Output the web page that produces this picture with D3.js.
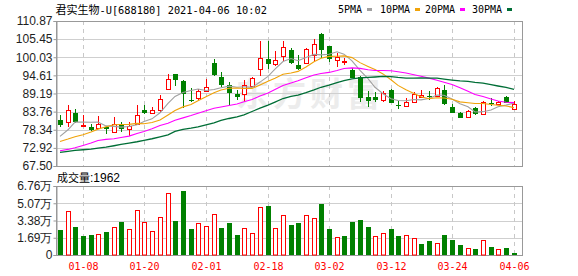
<!DOCTYPE html>
<html>
<head>
<meta charset="utf-8">
<script src="https://cdn.jsdelivr.net/npm/d3@7/dist/d3.min.js"></script>
<style>
  body { margin: 0; background: #fff; }
</style>
</head>
<body>
<div id="chart"></div>
<script>
// trading days shown (MM-DD)
const dates = ["01-05","01-06","01-07","01-08","01-11","01-12","01-13","01-14","01-15","01-18",
  "01-19","01-20","01-21","01-22","01-25","01-26","01-27","01-28","01-29","02-01",
  "02-02","02-03","02-04","02-05","02-08","02-09","02-10","02-18","02-19","02-22",
  "02-23","02-24","02-25","02-26","03-01","03-02","03-03","03-04","03-05","03-08",
  "03-09","03-10","03-11","03-12","03-15","03-16","03-17","03-18","03-19","03-22",
  "03-23","03-24","03-25","03-26","03-29","03-30","03-31","04-01","04-02","04-06"];

const opens = [81.20,80.62,83.50,79.50,79.23,78.83,79.03,77.83,79.92,78.53,
  80.12,84.20,83.30,84.10,90.37,94.95,93.06,87.29,87.79,89.97,
  98.33,94.15,91.77,89.08,89.18,91.57,96.50,99.43,97.94,100.22,
  102.31,97.74,98.23,100.72,107.09,103.30,99.43,98.83,96.34,94.15,
  88.18,88.18,87.39,90.27,85.60,85.40,86.79,88.18,88.48,88.48,
  90.17,85.20,83.21,82.21,84.80,83.11,86.20,85.80,88.18,84.70];
const highs = [82.81,85.80,84.60,82.80,80.02,82.40,79.43,82.20,80.62,80.62,
  85.80,85.60,85.20,88.80,94.95,95.10,93.30,90.77,90.67,93.56,
  99.63,95.75,92.76,90.27,93.16,94.15,104.90,104.90,101.90,104.90,
  102.71,100.72,102.91,105.50,107.29,103.50,101.22,99.92,96.94,94.55,
  89.97,89.58,89.97,90.40,86.99,87.79,89.77,90.27,89.97,91.27,
  91.77,85.99,83.51,84.20,85.00,86.99,87.79,86.99,88.30,86.99];
const lows = [79.23,79.23,80.32,79.20,77.83,78.53,77.04,77.54,77.63,76.54,
  79.83,83.00,83.20,83.50,90.17,91.57,84.80,86.60,86.99,89.68,
  94.55,91.27,85.80,87.29,86.60,91.37,94.55,96.44,97.54,99.03,
  98.03,96.24,98.03,99.03,99.73,98.53,97.24,97.74,93.76,86.60,
  85.00,86.79,86.60,86.20,84.40,85.20,86.60,88.08,87.29,88.18,
  85.80,83.21,81.72,82.00,82.81,82.81,85.30,85.60,86.39,84.60];
const closes = [79.83,84.20,80.82,79.70,78.33,80.12,78.53,80.12,78.53,79.33,
  82.81,83.20,84.20,87.50,93.45,93.20,89.18,86.99,89.87,91.17,
  94.75,91.77,89.38,88.28,91.77,93.86,99.70,97.94,99.13,103.01,
  98.43,96.54,102.51,103.90,102.31,99.33,100.22,99.03,93.96,87.98,
  87.09,87.19,89.38,86.39,85.50,86.60,89.08,88.78,88.38,90.87,
  86.09,83.41,81.82,83.90,83.01,86.60,86.00,86.50,86.40,86.09];

// volume in 万 (10k lots)
const volumes = [2.45,4.28,2.75,1.86,1.96,2.06,2.25,2.75,3.24,2.52,
  4.38,3.24,2.32,3.69,6.05,3.33,6.27,2.55,3.10,2.81,
  4.02,2.65,3.14,1.96,2.61,2.16,4.67,4.80,2.61,3.89,
  2.94,3.14,3.89,3.59,5.00,2.55,1.73,1.86,3.24,3.43,
  2.75,1.83,2.16,2.55,1.86,1.96,1.67,1.08,1.37,1.18,
  1.96,1.47,0.98,0.69,0.59,1.47,0.78,0.59,0.69,0.1962];

const ma5 = [76.34,78.33,80.62,80.62,80.58,80.63,79.50,79.36,79.13,79.33,
  79.86,80.80,81.61,83.41,86.23,88.31,89.51,90.06,90.54,90.08,
  90.39,90.91,91.39,91.07,91.19,91.01,92.60,94.31,96.48,98.73,
  99.64,99.01,99.92,100.88,100.74,100.92,101.65,100.96,98.97,96.10,
  93.66,91.05,89.12,87.61,87.11,87.01,87.39,87.27,87.67,88.74,
  88.64,87.51,86.11,85.22,83.65,83.75,84.27,85.20,85.70,86.31];
const ma10 = [74.85,75.55,76.24,76.84,77.64,78.53,79.23,79.83,79.92,79.95,
  80.25,80.15,80.49,81.27,82.78,84.11,85.18,85.87,87.00,88.18,
  89.38,90.24,90.75,90.83,90.69,90.71,91.75,92.85,93.78,94.96,
  95.33,95.80,97.12,98.68,99.73,100.28,100.33,100.44,99.92,98.42,
  97.29,96.35,95.04,93.29,91.61,90.33,89.22,88.20,87.64,87.93,
  87.83,87.45,86.69,86.44,86.19,86.19,85.89,85.66,85.45,84.97];
const ma20 = [72.06,72.46,72.96,73.66,74.35,75.15,75.45,75.65,76.04,76.44,
  77.24,77.83,78.63,79.60,80.30,81.20,81.90,82.60,83.30,84.05,
  84.79,85.17,85.60,86.03,86.70,87.39,88.45,89.34,90.37,91.55,
  92.33,93.00,93.92,94.74,95.19,95.49,96.04,96.65,96.85,96.69,
  96.31,96.08,96.08,95.98,95.67,95.31,94.78,94.32,93.78,93.17,
  92.56,91.90,90.87,89.87,88.90,88.26,87.55,86.92,86.55,86.46];
const ma30 = [71.57,71.87,72.16,72.36,72.56,72.86,73.16,73.56,73.95,74.35,
  74.75,75.15,75.65,76.24,76.84,77.83,78.43,78.83,79.23,79.82,
  80.42,81.12,81.71,82.21,82.81,83.80,84.80,85.70,86.60,87.68,
  88.30,88.72,89.44,90.25,91.05,91.69,92.41,93.04,93.55,93.84,
  93.98,94.12,94.29,94.25,94.00,93.77,93.77,93.83,93.78,93.77,
  93.48,93.20,92.95,92.80,92.51,92.27,91.81,91.43,91.01,90.45];

const priceTicks = [67.50, 72.92, 78.34, 83.76, 89.19, 94.61, 100.03, 105.45, 110.87];
const volTicks = [0, 1.69, 3.38, 5.07, 6.76];
const dateTicks = ["01-08", "01-20", "02-01", "02-18", "03-02", "03-12", "03-24", "04-06"];

const maNames = ["5PMA", "10PMA", "20PMA", "30PMA"];
const maColors = ["#a0a0a0", "#f0a30a", "#ff00ff", "#006e36"];

const width = 578, height = 276;
const left = 56, right = 522;
const pTop = 21, pBot = 166, vTop = 186, vBot = 255;
const RED = "#ff0000", GREEN = "#008000";
const cjk = "'Noto Sans CJK SC', sans-serif";
const mono = "'DejaVu Sans Mono', monospace";
const sans = "'Liberation Sans', Arial, sans-serif";

const svg = d3.select("#chart")
  .append("svg")
  .attr("width", width)
  .attr("height", height)
  .style("display", "block");

const x = d3.scaleBand()
  .domain(dates)
  .range([left, 517.5])
  .paddingInner(0.35)
  .paddingOuter(0.175);
const cx = d => Math.round(x(d) + x.bandwidth() / 2) + 0.5;

const y = d3.scaleLinear().domain([67.5, 110.87]).range([pBot, pTop]);
const yv = d3.scaleLinear().domain([0, 6.76]).range([vBot, vTop]);

// watermark
svg.append("text")
  .attr("x", 236).attr("y", 106)
  .attr("font-family", cjk)
  .attr("font-size", 33)
  .attr("font-weight", "bold")
  .attr("letter-spacing", 4)
  .attr("fill", "#ececec")
  .text("东方财富");

// horizontal grid
svg.append("g").selectAll("line")
  .data(priceTicks.slice(1, -1))
  .join("line")
  .attr("x1", left).attr("x2", right)
  .attr("y1", d => Math.round(y(d)) + 0.5).attr("y2", d => Math.round(y(d)) + 0.5)
  .attr("stroke", "#cfcfcf");
svg.append("g").selectAll("line")
  .data(volTicks.slice(1, -1))
  .join("line")
  .attr("x1", left).attr("x2", right)
  .attr("y1", d => Math.round(yv(d)) + 0.5).attr("y2", d => Math.round(yv(d)) + 0.5)
  .attr("stroke", "#cfcfcf");

// vertical dashed grid
[[pTop, pBot], [vTop, vBot]].forEach(([t, b]) => {
  svg.append("g").selectAll("line")
    .data(dateTicks)
    .join("line")
    .attr("x1", cx).attr("x2", cx)
    .attr("y1", t).attr("y2", b)
    .attr("stroke", "#c8c8c8")
    .attr("stroke-dasharray", "4,4");
});

// frames
[[pTop, pBot], [vTop, vBot]].forEach(([t, b]) => {
  svg.append("rect")
    .attr("x", left + 0.5).attr("y", t + 0.5)
    .attr("width", right - left).attr("height", b - t)
    .attr("fill", "none")
    .attr("stroke", "#999");
});

// y axes
const yAxis = d3.axisLeft(y).tickValues(priceTicks).tickSize(3).tickFormat(d => d.toFixed(2));
const yAxisG = svg.append("g").attr("transform", `translate(${left + 0.5},0)`).call(yAxis);
const yvAxis = d3.axisLeft(yv).tickValues(volTicks).tickSize(3)
  .tickFormat(d => d === 0 ? "0" : d.toFixed(2) + "万");
const yvAxisG = svg.append("g").attr("transform", `translate(${left + 0.5},0)`).call(yvAxis);
[yAxisG, yvAxisG].forEach(g => {
  g.select(".domain").attr("stroke", "#999");
  g.selectAll(".tick line").attr("stroke", "#999");
  g.selectAll(".tick text")
    .attr("x", -4)
    .attr("fill", "#1e1e1e")
    .attr("font-family", sans)
    .attr("font-size", 12);
});

// x axis labels
svg.append("g").selectAll("text")
  .data(dateTicks)
  .join("text")
  .attr("x", cx)
  .attr("y", 269.5)
  .attr("text-anchor", "middle")
  .attr("font-family", mono)
  .attr("font-size", 10)
  .attr("fill", RED)
  .text(d => d);

// candles
const idx = d3.range(dates.length);
const isUp = i => closes[i] >= opens[i];
const candles = svg.append("g");
candles.selectAll("line")
  .data(idx)
  .join("line")
  .attr("x1", i => cx(dates[i])).attr("x2", i => cx(dates[i]))
  .attr("y1", i => Math.round(y(highs[i]))).attr("y2", i => Math.round(y(lows[i])))
  .attr("stroke", i => isUp(i) ? RED : GREEN);
candles.selectAll("rect")
  .data(idx)
  .join("rect")
  .attr("x", i => cx(dates[i]) - (isUp(i) ? 2 : 2.5))
  .attr("y", i => Math.round(y(Math.max(opens[i], closes[i]))) + (isUp(i) ? 0.5 : 0))
  .attr("width", i => isUp(i) ? 4 : 5)
  .attr("height", i => Math.max(1, Math.round(Math.abs(y(opens[i]) - y(closes[i])))))
  .attr("fill", i => isUp(i) ? "#fff" : GREEN)
  .attr("stroke", i => isUp(i) ? RED : "none");

// moving averages
const line = d3.line().x((v, i) => cx(dates[i]) - 0.5).y(v => y(v));
[ma5, ma10, ma20, ma30].forEach((s, k) => {
  svg.append("path")
    .datum(s)
    .attr("d", line)
    .attr("fill", "none")
    .attr("stroke", maColors[k])
    .attr("stroke-width", k === 3 ? 1.3 : 1.1);
});

// volume bars: colour follows close vs previous close
const volUp = i => i === 0 ? closes[0] >= opens[0] : closes[i] >= closes[i - 1];
svg.append("g").selectAll("rect")
  .data(idx)
  .join("rect")
  .attr("x", i => cx(dates[i]) - (volUp(i) ? 2 : 2.5))
  .attr("y", i => Math.round(yv(volumes[i])) + (volUp(i) ? 0.5 : 0))
  .attr("width", i => volUp(i) ? 4 : 5)
  .attr("height", i => Math.max(1, vBot - Math.round(yv(volumes[i])) - (volUp(i) ? 0.5 : 0)))
  .attr("fill", i => volUp(i) ? "#fff" : GREEN)
  .attr("stroke", i => volUp(i) ? RED : "none");

// title
const title = svg.append("text").attr("x", 55.5).attr("y", 13.5).attr("fill", "#000");
title.append("tspan").attr("font-family", cjk).attr("font-size", 11).text("君实生物");
title.append("tspan").attr("font-family", mono).attr("font-size", 10.3).text("-U[688180] 2021-04-06 10:02");

// legend
const legendX = [338, 380, 425, 472];
const legend = svg.append("g").selectAll("g")
  .data(maNames)
  .join("g")
  .attr("transform", (d, k) => `translate(${legendX[k]},0)`);
legend.append("text")
  .attr("y", 12.5)
  .attr("font-family", mono)
  .attr("font-size", 10)
  .attr("fill", "#000")
  .text(d => d);
legend.append("rect")
  .attr("x", (d, k) => d.length * 6 + 5)
  .attr("y", 8)
  .attr("width", 5).attr("height", 3)
  .attr("fill", (d, k) => maColors[k]);

// volume label
const vLabel = svg.append("text").attr("x", 57).attr("y", 181.5).attr("fill", "#000");
vLabel.append("tspan").attr("font-family", cjk).attr("font-size", 11).text("成交量");
vLabel.append("tspan").attr("font-family", sans).attr("font-size", 12).text(":1962");
</script>
</body>
</html>
